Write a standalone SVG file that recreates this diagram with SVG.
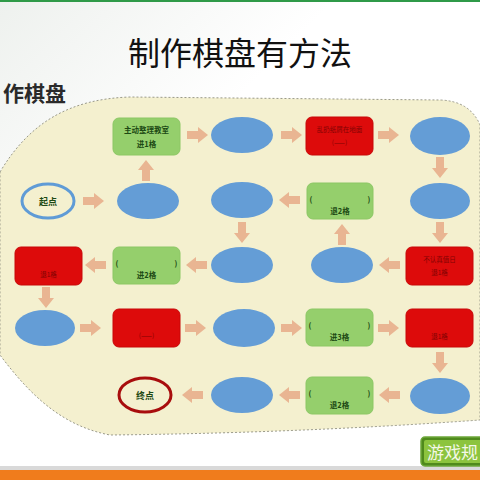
<svg xmlns="http://www.w3.org/2000/svg" xmlns:xlink="http://www.w3.org/1999/xlink" width="480" height="480" viewBox="0 0 480 480">
<defs>
<linearGradient id="bg" x1="0" y1="0" x2="1" y2="1">
<stop offset="0" stop-color="#eef1ee"/>
<stop offset="0.35" stop-color="#ffffff"/>
<stop offset="1" stop-color="#ffffff"/>
</linearGradient>
<path id="ar" d="M0,-4 L11,-4 L11,-8 L21,0 L11,8 L11,4 L0,4 Z"/>
<style>
.cn{font-family:"Noto Sans CJK SC","Noto Sans",sans-serif}
.g{fill:#95cf6c;stroke:#8cc765;stroke-width:1}
.r{fill:#dd0b0b;stroke:#c80808;stroke-width:1}
.b{fill:#649dd6}
.gt{font-family:"Noto Sans CJK SC",sans-serif;font-size:7.5px;font-weight:bold;fill:#1d4a14;text-anchor:middle}
.rt{font-family:"Noto Sans CJK SC",sans-serif;font-size:6.5px;fill:#5a0000;text-anchor:middle;opacity:0.7}
.br{font-family:"Noto Sans CJK SC",sans-serif;font-size:9px;font-weight:bold;fill:#1d4a14}
#conn use{fill:#e9b592}
</style>
</defs>
<rect width="480" height="480" fill="url(#bg)"/>
<rect x="0" y="0" width="480" height="2" fill="#2f9a48"/>
<rect x="0" y="466" width="480" height="4" fill="#d9d9d9"/>
<rect x="0" y="470" width="480" height="10" fill="#f07c1c"/>
<text x="240" y="65" class="cn" font-size="32" text-anchor="middle" fill="#111">制作棋盘有方法</text>
<text x="3" y="101" class="cn" font-size="21" font-weight="bold" fill="#2a2a2a">作棋盘</text>
<path d="M0,172 C30,122 70,99 130,97 L440,100 Q470,101 480,125 L480,420 Q300,433 110,435 C62,426 30,395 0,355 Z" fill="#f4f0cf" stroke="#9a9a8a" stroke-width="1" stroke-dasharray="2,2"/>
<g id="conn">
<use xlink:href="#ar" transform="translate(83,201)"/>
<use xlink:href="#ar" transform="translate(146,181) rotate(-90)"/>
<use xlink:href="#ar" transform="translate(187,135)"/>
<use xlink:href="#ar" transform="translate(281,135)"/>
<use xlink:href="#ar" transform="translate(378,135)"/>
<use xlink:href="#ar" transform="translate(440,157) rotate(90)"/>
<use xlink:href="#ar" transform="translate(440,222) rotate(90)"/>
<use xlink:href="#ar" transform="translate(400,265) rotate(180)"/>
<use xlink:href="#ar" transform="translate(342,245) rotate(-90)"/>
<use xlink:href="#ar" transform="translate(300,200) rotate(180)"/>
<use xlink:href="#ar" transform="translate(242,222) rotate(90)"/>
<use xlink:href="#ar" transform="translate(207,265) rotate(180)"/>
<use xlink:href="#ar" transform="translate(106,265) rotate(180)"/>
<use xlink:href="#ar" transform="translate(46,287) rotate(90)"/>
<use xlink:href="#ar" transform="translate(80,328)"/>
<use xlink:href="#ar" transform="translate(185,328)"/>
<use xlink:href="#ar" transform="translate(281,328)"/>
<use xlink:href="#ar" transform="translate(378,328)"/>
<use xlink:href="#ar" transform="translate(440,352) rotate(90)"/>
<use xlink:href="#ar" transform="translate(400,395) rotate(180)"/>
<use xlink:href="#ar" transform="translate(300,395) rotate(180)"/>
<use xlink:href="#ar" transform="translate(203,395) rotate(180)"/>
</g>
<g id="r1c1"><rect class="g" x="113" y="118" width="67" height="37" rx="6"/><text class="gt" x="146.5" y="133">主动整理教室</text><text class="gt" x="146.5" y="147" font-size="6">进1格</text></g>
<g id="r1c2"><ellipse class="b" cx="242" cy="135" rx="31" ry="18"/></g>
<g id="r1c3"><rect class="r" x="306" y="117" width="67" height="38" rx="6"/><text class="rt" x="339.5" y="132">乱扔纸屑在地面</text><text class="rt" x="339.5" y="145">(——)</text></g>
<g id="r1c4"><ellipse class="b" cx="440" cy="136" rx="30" ry="19"/></g>
<g id="start"><ellipse cx="48" cy="201" rx="26" ry="17" fill="#f4f0cf" stroke="#5f9bd6" stroke-width="3"/><text class="br" x="48" y="205" text-anchor="middle">起点</text></g>
<g id="r2c1"><ellipse class="b" cx="148" cy="201" rx="31" ry="18"/></g>
<g id="r2c2"><ellipse class="b" cx="242" cy="200" rx="31" ry="18"/></g>
<g id="r2c3"><rect class="g" x="307" y="183" width="66" height="36" rx="6"/><text class="gt" x="311" y="202" text-anchor="start">(</text><text class="gt" x="369" y="202" text-anchor="end">)</text><text class="gt" x="340" y="214" font-size="6">退2格</text></g>
<g id="r2c4"><ellipse class="b" cx="440" cy="201" rx="30" ry="18"/></g>
<g id="r3c0"><rect class="r" x="15" y="247" width="67" height="38" rx="6"/><text class="rt" x="48.5" y="277">退1格</text></g>
<g id="r3c1"><rect class="g" x="113" y="247" width="67" height="37" rx="6"/><text class="gt" x="117" y="266" text-anchor="start">(</text><text class="gt" x="176" y="266" text-anchor="end">)</text><text class="gt" x="146.5" y="278" font-size="6">进2格</text></g>
<g id="r3c2"><ellipse class="b" cx="242" cy="265" rx="31" ry="18"/></g>
<g id="r3c3"><ellipse class="b" cx="342" cy="265" rx="31" ry="18"/></g>
<g id="r3c4"><rect class="r" x="406" y="247" width="67" height="38" rx="6"/><text class="rt" x="439.5" y="262">不认真值日</text><text class="rt" x="439.5" y="275">退1格</text></g>
<g id="r4c0"><ellipse class="b" cx="45" cy="328" rx="30" ry="18"/></g>
<g id="r4c1"><rect class="r" x="113" y="309" width="67" height="38" rx="6"/><text class="rt" x="146.5" y="338">(——)</text></g>
<g id="r4c2"><ellipse class="b" cx="244" cy="328" rx="31" ry="19"/></g>
<g id="r4c3"><rect class="g" x="306" y="309" width="67" height="37" rx="6"/><text class="gt" x="310" y="328" text-anchor="start">(</text><text class="gt" x="369" y="328" text-anchor="end">)</text><text class="gt" x="339.5" y="340" font-size="6">进3格</text></g>
<g id="r4c4"><rect class="r" x="406" y="309" width="67" height="38" rx="6"/><text class="rt" x="439.5" y="339">退1格</text></g>
<g id="end"><ellipse cx="145" cy="395" rx="26" ry="17" fill="#f4f0cf" stroke="#a80d0d" stroke-width="3"/><text class="br" x="145" y="399" text-anchor="middle" fill="#3a2a2a">终点</text></g>
<g id="r5c2"><ellipse class="b" cx="242" cy="395" rx="31" ry="18"/></g>
<g id="r5c3"><rect class="g" x="306" y="377" width="67" height="37" rx="6"/><text class="gt" x="310" y="396" text-anchor="start">(</text><text class="gt" x="369" y="396" text-anchor="end">)</text><text class="gt" x="339.5" y="408" font-size="6">退2格</text></g>
<g id="r5c4"><ellipse class="b" cx="440" cy="396" rx="30" ry="18"/></g>
<g id="rules"><rect x="421" y="437" width="66" height="29" rx="4" fill="#4f8a1c" stroke="#6ea83a" stroke-width="1.5"/><rect x="424" y="440" width="66" height="23" rx="2" fill="#8cc43e"/><text x="427" y="459" font-family="Noto Sans CJK SC,sans-serif" font-size="17" fill="#f4f8e8">游戏规</text></g>
</svg>
